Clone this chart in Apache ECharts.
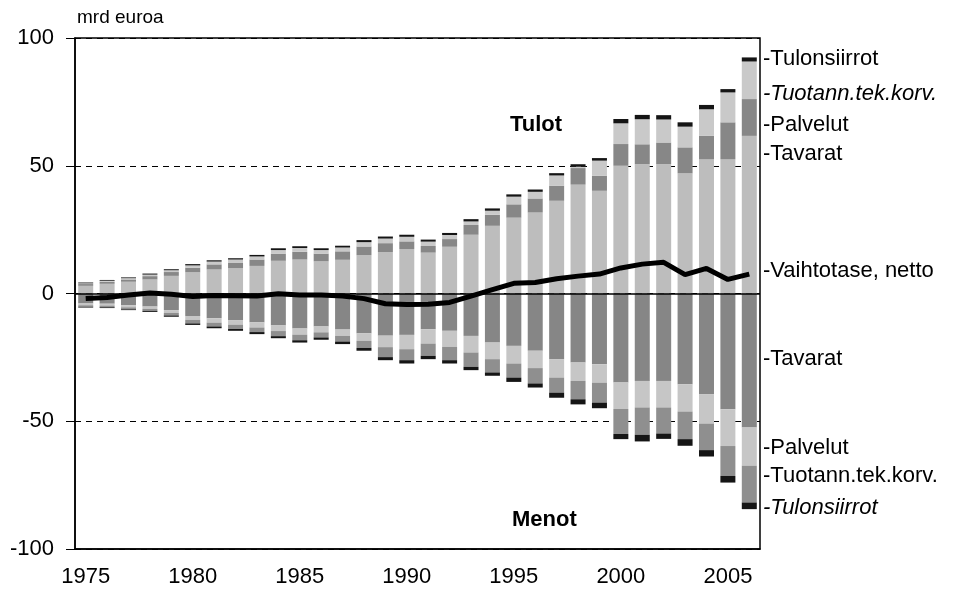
<!DOCTYPE html>
<html>
<head>
<meta charset="utf-8">
<script src="https://cdn.jsdelivr.net/npm/echarts@6/dist/echarts.min.js"></script>
<style>
html, body { margin: 0; padding: 0; background: #fff; }
#chart { width: 954px; height: 589px; }
</style>
</head>
<body>
<div id="chart"></div>
<script>
// vuodet
const years = ['1975','1976','1977','1978','1979','1980','1981','1982','1983','1984','1985','1986','1987','1988','1989','1990',
  '1991','1992','1993','1994','1995','1996','1997','1998','1999','2000','2001','2002','2003','2004','2005','2006'];

// Tulot (mrd euroa)
const tulotTavarat = [3.0, 3.8, 4.6, 5.5, 6.9, 8.3, 9.4, 9.9, 10.8, 12.8, 13.3, 12.6, 13.2, 15.0, 16.2, 17.4,
  16.0, 18.3, 23.0, 26.5, 29.7, 31.7, 36.3, 42.6, 40.2, 50.0, 50.6, 50.6, 47.0, 52.6, 52.6, 61.7];
const tulotPalvelut = [0.7, 0.8, 0.9, 1.3, 1.5, 1.8, 2.0, 2.2, 2.5, 2.8, 3.0, 3.0, 3.3, 3.4, 3.5, 3.0,
  2.6, 3.0, 3.8, 4.3, 5.2, 5.5, 5.9, 6.5, 5.9, 8.5, 7.8, 8.5, 10.2, 9.1, 14.4, 14.4];
const tulotTuotann = [0.3, 0.4, 0.5, 0.6, 0.7, 0.9, 1.1, 1.2, 1.2, 1.4, 1.5, 1.4, 1.5, 1.7, 1.8, 1.8,
  1.7, 1.6, 1.4, 1.6, 3.0, 2.6, 4.0, 0.5, 5.9, 8.1, 9.8, 9.0, 8.1, 10.4, 11.7, 14.7];
const tulotTulonsiirrot = [0.3, 0.3, 0.3, 0.4, 0.4, 0.5, 0.5, 0.5, 0.6, 0.7, 0.7, 0.7, 0.7, 0.8, 0.8, 0.8,
  0.8, 0.8, 0.9, 0.9, 0.9, 0.9, 0.9, 1.0, 1.0, 1.7, 1.7, 1.7, 1.7, 1.7, 1.3, 1.6];

// Menot (mrd euroa)
const menotTavarat = [-3.9, -4.0, -4.6, -5.1, -6.5, -8.8, -9.7, -10.4, -11.3, -12.5, -13.7, -12.9, -14.1, -15.6, -16.5, -16.2,
  -14.0, -14.6, -16.6, -19.2, -20.5, -22.4, -25.7, -27.0, -27.7, -34.8, -34.2, -34.2, -35.5, -39.4, -45.3, -52.4];
const menotPalvelut = [-0.7, -0.7, -0.8, -0.9, -1.1, -1.5, -1.7, -1.8, -2.0, -2.2, -2.4, -2.3, -2.5, -2.9, -4.5, -5.6,
  -5.6, -6.3, -6.5, -6.5, -6.9, -6.8, -7.2, -7.2, -7.2, -10.4, -10.4, -10.4, -10.7, -11.5, -14.4, -15.0];
const menotTuotann = [-0.6, -0.7, -0.8, -0.8, -1.0, -1.4, -1.5, -1.7, -1.8, -2.0, -2.2, -2.0, -2.2, -2.8, -3.9, -4.3,
  -4.8, -5.2, -5.6, -5.2, -5.5, -6.0, -5.9, -7.2, -7.8, -9.8, -10.7, -10.2, -10.8, -10.4, -11.7, -14.4];
const menotTulonsiirrot = [-0.3, -0.3, -0.3, -0.4, -0.5, -0.6, -0.7, -0.7, -0.8, -0.8, -0.9, -0.9, -1.0, -1.1, -1.2, -1.3,
  -1.3, -1.3, -1.3, -1.3, -1.7, -1.6, -2.0, -2.0, -2.2, -2.0, -2.6, -2.1, -2.6, -2.5, -2.6, -2.6];

// Vaihtotase, netto
const vaihtotase = [-2.0, -1.6, -0.6, 0.2, -0.3, -1.2, -0.8, -0.9, -1.0, -0.1, -0.6, -0.6, -1.0, -2.0, -4.0, -4.3,
  -4.2, -3.5, -1.0, 1.5, 4.0, 4.3, 5.8, 6.8, 7.6, 10.0, 11.5, 12.2, 7.4, 9.8, 5.5, 7.6];

const yTicks = [-100, -50, 0, 50, 100];

const FONT = 'Liberation Sans, Arial, sans-serif';

const chart = echarts.init(document.getElementById('chart'));

function barSeries(name, data, color) {
  return {
    name: name,
    type: 'bar',
    stack: 'kaikki',
    barWidth: 15,
    data: data,
    itemStyle: { color: color },
    silent: true
  };
}

chart.setOption({
  animation: false,
  textStyle: { fontFamily: FONT },
  grid: { left: 75, right: 194, top: 38, bottom: 40, show: true, borderColor: '#000', borderWidth: 1.5 },
  xAxis: {
    type: 'category',
    data: years,
    boundaryGap: true,
    axisLine: { onZero: false, lineStyle: { color: '#000', width: 1.5 } },
    axisTick: { interval: 4, alignWithLabel: true, length: 8, lineStyle: { color: '#000' } },
    axisLabel: { interval: 4, color: '#000', fontSize: 22, margin: 17 }
  },
  yAxis: {
    type: 'value',
    min: yTicks[0],
    max: yTicks[yTicks.length - 1],
    interval: 50,
    axisLine: { show: true, lineStyle: { color: '#000', width: 1.5 } },
    axisTick: { show: true, length: 9, inside: false, lineStyle: { color: '#000' } },
    axisLabel: { color: '#000', fontSize: 22, margin: 21 },
    splitLine: { show: true, lineStyle: { color: '#000', type: [6, 5], width: 1 } }
  },
  series: [
    barSeries('Tavarat', tulotTavarat, '#bdbdbd'),
    barSeries('Palvelut', tulotPalvelut, '#878787'),
    barSeries('Tuotann.tek.korv.', tulotTuotann, '#c9c9c9'),
    barSeries('Tulonsiirrot', tulotTulonsiirrot, '#151515'),
    barSeries('Tavarat (menot)', menotTavarat, '#868686'),
    barSeries('Palvelut (menot)', menotPalvelut, '#c6c6c6'),
    barSeries('Tuotann.tek.korv. (menot)', menotTuotann, '#8f8f8f'),
    barSeries('Tulonsiirrot (menot)', menotTulonsiirrot, '#151515'),
    {
      name: 'Vaihtotase, netto',
      type: 'line',
      data: vaihtotase,
      symbol: 'none',
      z: 5,
      lineStyle: { color: '#000', width: 5 },
      markLine: {
        silent: true,
        symbol: 'none',
        label: { show: false },
        lineStyle: { color: '#000', type: 'solid', width: 1.5 },
        data: [{ yAxis: 0 }]
      }
    }
  ],
  graphic: [
    { type: 'text', left: 77, top: 8, style: { text: 'mrd euroa', font: '19px ' + FONT, fill: '#000' } },
    { type: 'text', left: 510, top: 114, style: { text: 'Tulot', font: 'bold 22px ' + FONT, fill: '#000' } },
    { type: 'text', left: 512, top: 509, style: { text: 'Menot', font: 'bold 22px ' + FONT, fill: '#000' } }
  ]
});

// oikean reunan selitteet
const rightLabels = [
  ['Tulonsiirrot', 91.9, false],
  ['Tuotann.tek.korv.', 78.2, true],
  ['Palvelut', 65.9, false],
  ['Tavarat', 54.6, false],
  ['Vaihtotase, netto', 8.9, false],
  ['Tavarat', -25.7, false],
  ['Palvelut', -60.3, false],
  ['Tuotann.tek.korv.', -71.4, false],
  ['Tulonsiirrot', -83.8, true]
];
const xRight = chart.getWidth() - 194;
chart.setOption({
  graphic: chart.getOption().graphic[0].elements.concat(rightLabels.map(function (l) {
    const y = chart.convertToPixel({ yAxisIndex: 0 }, l[1]);
    return {
      type: 'text',
      x: xRight + 3,
      y: y,
      style: {
        text: '-' + l[0],
        font: (l[2] ? 'italic ' : '') + '22px ' + FONT,
        fill: '#000',
        verticalAlign: 'middle'
      }
    };
  }))
});
</script>
</body>
</html>
